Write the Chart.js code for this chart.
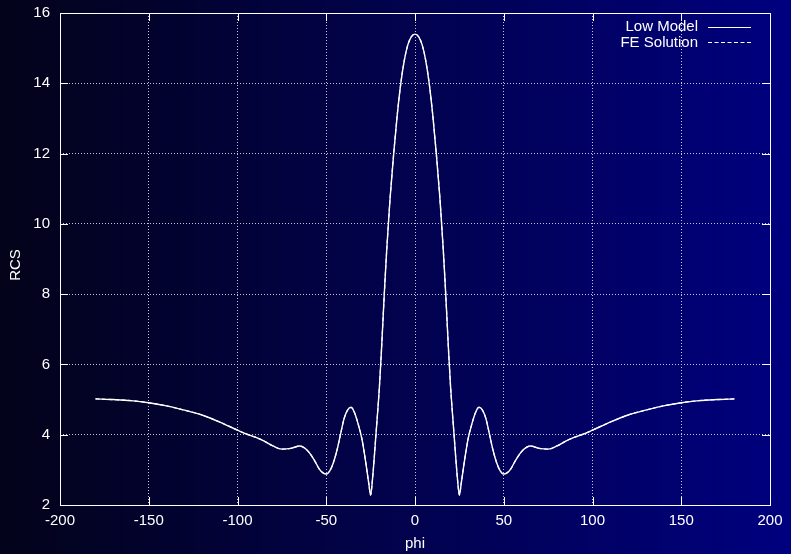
<!DOCTYPE html>
<html>
<head>
<meta charset="utf-8">
<script src="https://cdn.jsdelivr.net/npm/chart.js@4.4.1/dist/chart.umd.min.js"></script>
<style>
    html, body { margin: 0; padding: 0; background: #000040; }
    #wrap { width: 791px; height: 554px; }
</style>
</head>
<body>
<div id="wrap"><canvas id="rcsChart" width="791" height="554"></canvas></div>
<script>
// RCS vs phi
const phi = [
    -180, -170, -160, -150, -140, -130, -120, -110, -100, -95, -90, -85, -80, -75, -70, -65,
    -61, -57, -54, -52, -50, -48, -46, -44, -42, -40, -38, -36, -34, -32, -30, -28, -26, -25,
    -24, -22, -20, -19, -18, -17, -16, -15, -14, -12, -10, -8, -6, -4, -2, 0,
    2, 4, 6, 8, 10, 12, 14, 15, 16, 17, 18, 19, 20, 22, 24,
    25, 26, 28, 30, 32, 34, 36, 38, 40, 42, 44, 46, 48, 50, 52, 54, 57, 61,
    65, 70, 75, 80, 85, 90, 95, 100, 110, 120, 130, 140, 150, 160, 170, 180
];
const rcsLow = [
    5.02, 5.00, 4.97, 4.91, 4.82, 4.70, 4.56, 4.36, 4.13, 4.02, 3.93, 3.82, 3.68, 3.59, 3.61, 3.68,
    3.57, 3.30, 3.03, 2.92, 2.88, 2.97, 3.20, 3.55, 4.00, 4.45, 4.70, 4.78, 4.62, 4.30, 3.90, 3.30, 2.60, 2.28,
    2.70, 4.00, 5.40, 6.30, 7.30, 8.30, 9.20, 10.00, 10.75, 12.00, 13.10, 14.00, 14.66, 15.10, 15.33, 15.40,
    15.33, 15.10, 14.66, 14.00, 13.10, 12.00, 10.75, 10.00, 9.20, 8.30, 7.30, 6.30, 5.40, 4.00, 2.70,
    2.28, 2.60, 3.30, 3.90, 4.30, 4.62, 4.78, 4.70, 4.45, 4.00, 3.55, 3.20, 2.97, 2.88, 2.92, 3.03, 3.30, 3.57,
    3.68, 3.61, 3.59, 3.68, 3.82, 3.93, 4.02, 4.13, 4.36, 4.56, 4.70, 4.82, 4.91, 4.97, 5.00, 5.02
];
const rcsFE = [
    5.02, 5.00, 4.97, 4.91, 4.82, 4.70, 4.56, 4.36, 4.13, 4.02, 3.93, 3.82, 3.68, 3.59, 3.61, 3.68,
    3.57, 3.30, 3.03, 2.92, 2.88, 2.97, 3.20, 3.55, 4.00, 4.45, 4.70, 4.78, 4.62, 4.30, 3.90, 3.30, 2.60, 2.28,
    2.70, 4.00, 5.40, 6.30, 7.30, 8.30, 9.20, 10.00, 10.75, 12.00, 13.10, 14.00, 14.66, 15.10, 15.33, 15.40,
    15.33, 15.10, 14.66, 14.00, 13.10, 12.00, 10.75, 10.00, 9.20, 8.30, 7.30, 6.30, 5.40, 4.00, 2.70,
    2.28, 2.60, 3.30, 3.90, 4.30, 4.62, 4.78, 4.70, 4.45, 4.00, 3.55, 3.20, 2.97, 2.88, 2.92, 3.03, 3.30, 3.57,
    3.68, 3.61, 3.59, 3.68, 3.82, 3.93, 4.02, 4.13, 4.36, 4.56, 4.70, 4.82, 4.91, 4.97, 5.00, 5.02
];
const xTicks = [-200, -150, -100, -50, 0, 50, 100, 150, 200];
const yTicks = [2, 4, 6, 8, 10, 12, 14, 16];
const seriesNames = ['Low Model', 'FE Solution'];

const FONT = '"Liberation Sans", Arial, Helvetica, sans-serif';

// gnuplot-like frame: gradient background, inward ticks, border, legend, axis titles
const gnuplotFrame = {
    id: 'gnuplotFrame',
    beforeDraw(chart) {
        const { ctx, width, height } = chart;
        const g = ctx.createLinearGradient(0, 0, width, 0);
        g.addColorStop(0, '#03031a');
        g.addColorStop(1, '#00007f');
        ctx.save();
        ctx.fillStyle = g;
        ctx.fillRect(0, 0, width, height);
        ctx.restore();
    },
    afterDraw(chart) {
        const { ctx, chartArea: a, scales } = chart;
        ctx.save();
        ctx.strokeStyle = '#ffffff';
        ctx.lineWidth = 1;
        ctx.setLineDash([]);
        ctx.beginPath();
        xTicks.forEach(v => {
            const px = Math.round(scales.x.getPixelForValue(v)) + 0.5;
            ctx.moveTo(px, a.bottom); ctx.lineTo(px, a.bottom - 8);
            ctx.moveTo(px, a.top); ctx.lineTo(px, a.top + 8);
        });
        yTicks.forEach(v => {
            const py = Math.round(scales.y.getPixelForValue(v)) + 0.5;
            ctx.moveTo(a.left, py); ctx.lineTo(a.left + 8, py);
            ctx.moveTo(a.right, py); ctx.lineTo(a.right - 8, py);
        });
        ctx.stroke();
        ctx.strokeRect(Math.round(a.left) + 0.5, Math.round(a.top) + 0.5,
            Math.round(a.right - a.left), Math.round(a.bottom - a.top));

        // legend
        ctx.fillStyle = '#ffffff';
        ctx.font = '15px ' + FONT;
        ctx.textAlign = 'right';
        ctx.textBaseline = 'middle';
        ctx.fillText(seriesNames[0], 698, 27);
        ctx.fillText(seriesNames[1], 698, 43);
        ctx.lineWidth = 1.2;
        ctx.beginPath();
        ctx.moveTo(708, 27.5); ctx.lineTo(751, 27.5);
        ctx.stroke();
        ctx.setLineDash([4, 2.5]);
        ctx.beginPath();
        ctx.moveTo(708, 42.5); ctx.lineTo(751, 42.5);
        ctx.stroke();
        ctx.setLineDash([]);

        // axis titles
        ctx.textAlign = 'center';
        ctx.fillText('phi', 415, 544);
        ctx.translate(16, 265);
        ctx.rotate(-Math.PI / 2);
        ctx.fillText('RCS', 0, 0);
        ctx.restore();
    }
};

const ctx = document.getElementById('rcsChart').getContext('2d');
new Chart(ctx, {
    type: 'line',
    data: {
        datasets: [
            {
                label: seriesNames[0],
                data: phi.map((p, i) => ({ x: p, y: rcsLow[i] })),
                borderColor: '#ffffff',
                borderWidth: 1.4,
                pointRadius: 0,
                cubicInterpolationMode: 'monotone'
            },
            {
                label: seriesNames[1],
                data: phi.map((p, i) => ({ x: p, y: rcsFE[i] })),
                borderColor: '#ffffff',
                borderWidth: 1.2,
                borderDash: [4, 2.5],
                pointRadius: 0,
                cubicInterpolationMode: 'monotone'
            }
        ]
    },
    options: {
        responsive: false,
        animation: false,
        layout: { padding: { top: 13, right: 21, left: 0, bottom: 0 } },
        plugins: { legend: { display: false }, tooltip: { enabled: false } },
        scales: {
            x: {
                type: 'linear',
                min: -200,
                max: 200,
                afterFit: s => { s.height = 49; },
                afterBuildTicks: s => { s.ticks = xTicks.map(v => ({ value: v })); },
                ticks: { color: '#ffffff', font: { family: FONT, size: 15 }, padding: 7, maxRotation: 0 },
                grid: { color: '#c4c4d4', lineWidth: 1, drawTicks: false },
                border: { display: false, dash: [1, 2] }
            },
            y: {
                min: 2,
                max: 16,
                afterFit: s => { s.width = 60; s.paddingTop = 0; },
                afterBuildTicks: s => { s.ticks = yTicks.map(v => ({ value: v })); },
                ticks: { color: '#ffffff', font: { family: FONT, size: 15 }, padding: 10 },
                grid: { color: '#c4c4d4', lineWidth: 1, drawTicks: false },
                border: { display: false, dash: [1, 2] }
            }
        }
    },
    plugins: [gnuplotFrame]
});
</script>
</body>
</html>
